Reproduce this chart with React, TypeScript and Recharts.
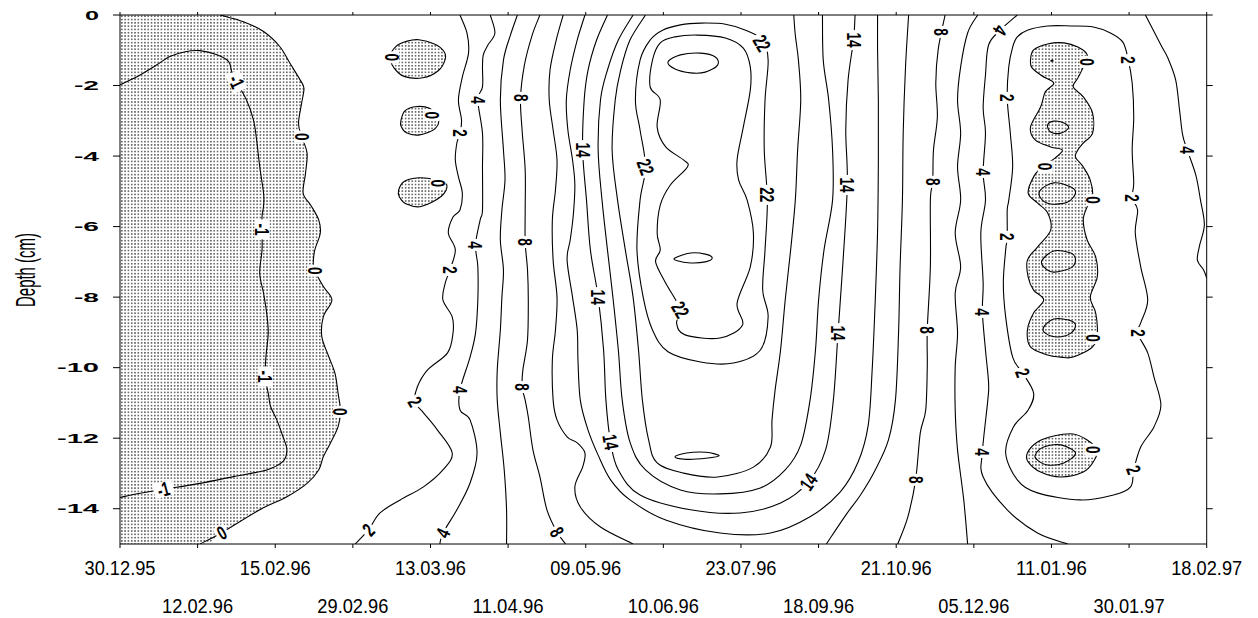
import React from 'react';
import { ComposedChart, Line, Scatter, XAxis, YAxis } from 'recharts';

type P = [number, number];

// ---------- axes ----------
const dateLabels = ['30.12.95', '12.02.96', '15.02.96', '29.02.96', '13.03.96', '11.04.96', '09.05.96', '10.06.96', '23.07.96', '18.09.96', '21.10.96', '05.12.96', '11.01.96', '30.01.97', '18.02.97'];
const dateTicks = [0, 1, 2, 3, 4, 5, 6, 7, 8, 9, 10, 11, 12, 13, 14];
const depthTicks = [0, -2, -4, -6, -8, -10, -12, -14];

// ---------- isolines (x = sampling-date index, y = depth cm) ----------
const isoM1: P[] = [[0, -1.98], [0.26, -1.7], [0.47, -1.42], [0.64, -1.18], [0.84, -1.04], [1.03, -1.01], [1.25, -1.13], [1.4, -1.32], [1.44, -1.61], [1.5, -1.89], [1.63, -2.41], [1.72, -2.98], [1.76, -3.54], [1.8, -4.3], [1.85, -5.06], [1.85, -5.4], [1.83, -5.7], [1.83, -6.08], [1.83, -6.66], [1.8, -7.32], [1.85, -7.9], [1.89, -8.46], [1.91, -9.02], [1.88, -9.69], [1.87, -10.25], [1.91, -10.73], [1.94, -11.1], [2.02, -11.48], [2.1, -11.96], [2.15, -12.33], [2.1, -12.66], [1.89, -12.9], [1.46, -13.09], [1.03, -13.28], [0.56, -13.45], [0.26, -13.56], [0, -13.68]];
const iso0Left: P[] = [[1.29, 0], [1.59, -0.19], [1.85, -0.47], [2.06, -0.9], [2.19, -1.37], [2.32, -1.84], [2.37, -2.08], [2.34, -2.5], [2.3, -3.07], [2.34, -3.45], [2.41, -3.92], [2.39, -4.49], [2.36, -5.06], [2.46, -5.4], [2.56, -5.81], [2.58, -6.19], [2.51, -6.66], [2.49, -7.04], [2.51, -7.25], [2.62, -7.7], [2.73, -8.08], [2.62, -8.55], [2.6, -9.12], [2.69, -9.69], [2.77, -10.16], [2.81, -10.73], [2.84, -11.22], [2.81, -11.67], [2.71, -12.14], [2.62, -12.52], [2.56, -12.9], [2.41, -13.28], [2.15, -13.66], [1.8, -14.03], [1.31, -14.68], [1.03, -15]];
const blob0a: P[] = [[3.48, -1.18], [3.56, -0.88], [3.7, -0.74], [3.85, -0.7], [4.05, -0.82], [4.17, -1.02], [4.19, -1.25], [4.1, -1.58], [3.9, -1.78], [3.66, -1.74], [3.53, -1.5], [3.48, -1.18]];
const blob0b: P[] = [[3.62, -2.98], [3.67, -2.72], [3.8, -2.6], [3.98, -2.64], [4.1, -2.92], [4.06, -3.22], [3.86, -3.4], [3.69, -3.34], [3.62, -3.15], [3.62, -2.98]];
const blob0c: P[] = [[3.59, -4.96], [3.66, -4.72], [3.82, -4.62], [4.05, -4.66], [4.21, -4.82], [4.14, -5.14], [3.88, -5.43], [3.69, -5.36], [3.6, -5.16], [3.59, -4.96]];
const iso2Left: P[] = [[4.38, 0], [4.47, -0.51], [4.49, -1.08], [4.41, -1.76], [4.36, -2.41], [4.4, -2.98], [4.38, -3.35], [4.34, -3.63], [4.32, -4.11], [4.36, -4.59], [4.41, -5.05], [4.38, -5.53], [4.29, -5.73], [4.23, -6.18], [4.32, -6.66], [4.25, -7.23], [4.19, -7.6], [4.16, -8.08], [4.28, -8.56], [4.29, -9.02], [4.22, -9.58], [3.96, -10.07], [3.83, -10.55], [3.8, -10.97], [3.91, -11.28], [4.09, -11.77], [4.28, -12.42], [4.16, -12.9], [3.91, -13.38], [3.61, -13.75], [3.35, -14.12], [3.2, -14.6], [3.03, -15]];
const iso4Left: P[] = [[4.77, 0], [4.83, -0.51], [4.74, -0.85], [4.68, -1.13], [4.67, -1.47], [4.67, -2.04], [4.61, -2.41], [4.67, -3.35], [4.67, -4.31], [4.67, -5.53], [4.64, -5.81], [4.58, -6.52], [4.61, -7.14], [4.61, -8.08], [4.58, -9.02], [4.51, -9.7], [4.38, -10.63], [4.38, -11.2], [4.51, -11.48], [4.6, -12.42], [4.51, -13.27], [4.34, -14.03], [4.16, -14.69], [4.12, -15]];
const iso6Left: P[] = [[5.12, 0], [5.03, -0.57], [4.94, -1.28], [4.9, -2.41], [4.94, -3.83], [4.96, -4.68], [4.92, -5.53], [4.9, -6.38], [4.94, -7.23], [4.92, -8.0], [4.9, -8.93], [4.86, -10.07], [4.86, -10.92], [4.9, -11.85], [4.95, -12.9], [4.98, -14.03], [4.98, -15]];
const iso8Left: P[] = [[5.41, 0], [5.31, -0.57], [5.21, -1.42], [5.16, -2.35], [5.18, -3.26], [5.22, -4.39], [5.22, -5.53], [5.22, -6.44], [5.25, -7.23], [5.26, -8.08], [5.25, -9.21], [5.19, -10.07], [5.18, -10.55], [5.22, -10.92], [5.26, -11.4], [5.32, -12.33], [5.41, -13.1], [5.5, -14.03], [5.63, -14.66], [5.74, -15]];
const iso10Left: P[] = [[5.71, 0], [5.62, -0.71], [5.54, -1.56], [5.53, -2.41], [5.58, -3.26], [5.63, -4.11], [5.61, -4.96], [5.57, -5.81], [5.58, -6.95], [5.63, -8.0], [5.61, -8.93], [5.57, -9.78], [5.58, -10.92], [5.63, -11.48], [5.76, -11.96], [5.89, -12.13], [5.99, -12.42], [5.96, -12.82], [5.86, -13.38], [5.93, -13.95], [6.19, -14.52], [6.61, -15]];
const iso12: P[] = [[5.99, 0], [5.89, -0.71], [5.8, -1.56], [5.75, -2.41], [5.77, -3.26], [5.83, -4.11], [5.86, -4.82], [5.84, -5.67], [5.8, -6.38], [5.76, -6.95], [5.83, -8.0], [5.89, -8.93], [5.9, -9.78], [5.93, -10.92], [6.03, -11.77], [6.16, -12.48], [6.32, -13.18], [6.57, -13.75], [7.03, -14.32], [7.73, -14.69], [8.38, -14.69], [8.89, -14.23], [9.28, -13.52], [9.51, -12.67], [9.64, -11.62], [9.69, -10.07], [9.73, -8.08], [9.76, -6.1], [9.77, -4.11], [9.77, -2.41], [9.76, -0.99], [9.76, 0]];
const iso14: P[] = [[6.28, 0], [6.14, -0.71], [6.03, -1.56], [5.98, -2.41], [5.96, -3.83], [6.01, -5.25], [6.06, -6.66], [6.16, -8.0], [6.23, -9.5], [6.26, -10.92], [6.32, -12.11], [6.42, -12.9], [6.7, -13.61], [7.35, -14.03], [7.99, -14.12], [8.51, -13.84], [8.87, -13.24], [9.09, -12.33], [9.19, -10.92], [9.25, -9.02], [9.31, -7.14], [9.37, -4.82], [9.35, -3.26], [9.38, -1.84], [9.45, -0.71], [9.47, 0]];
const iso16: P[] = [[6.61, 0], [6.42, -0.71], [6.28, -1.56], [6.19, -2.41], [6.16, -3.83], [6.21, -5.25], [6.28, -6.66], [6.35, -8.0], [6.42, -9.5], [6.47, -10.92], [6.57, -12.11], [6.77, -12.9], [7.22, -13.47], [7.73, -13.58], [8.25, -13.41], [8.57, -12.9], [8.77, -12.19], [8.89, -10.92], [8.96, -9.5], [9.0, -8.08], [9.07, -6.66], [9.18, -5.25], [9.18, -3.83], [9.13, -2.41], [9.06, -1.28], [9.05, 0]];
const iso18: P[] = [[6.77, 0], [6.57, -0.71], [6.45, -1.56], [6.38, -2.41], [6.34, -3.83], [6.41, -5.25], [6.51, -6.66], [6.61, -8.0], [6.68, -9.5], [6.73, -10.92], [6.81, -12.05], [6.92, -12.7], [7.26, -12.99], [7.7, -13.1], [8.16, -12.82], [8.38, -12.25], [8.4, -11.48], [8.44, -10.63], [8.51, -9.5], [8.57, -8.08], [8.64, -6.66], [8.7, -5.25], [8.73, -3.83], [8.77, -2.41], [8.74, -1.28], [8.7, -0.57], [8.68, 0]];
const iso20: P[] = [[7.48, -0.23], [7.22, -0.28], [6.99, -0.43], [6.83, -0.71], [6.7, -1.28], [6.64, -2.41], [6.7, -3.26], [6.77, -4.31], [6.7, -5.25], [6.66, -6.66], [6.74, -8.0], [6.86, -8.93], [7.06, -9.55], [7.48, -9.84], [7.9, -9.87], [8.25, -9.5], [8.35, -8.56], [8.28, -7.8], [8.31, -6.66], [8.34, -5.25], [8.3, -3.83], [8.31, -2.41], [8.35, -1.28], [8.28, -0.71], [8.06, -0.43], [7.8, -0.26], [7.48, -0.23]];
const iso20b: P[] = [[7.15, -12.53], [7.3, -12.42], [7.55, -12.4], [7.72, -12.5], [7.55, -12.57], [7.3, -12.6], [7.15, -12.53]];
const iso22: P[] = [[7.44, -0.57], [7.15, -0.62], [6.96, -0.79], [6.86, -1.28], [6.83, -2.04], [6.96, -2.41], [6.92, -3.18], [7.03, -3.74], [7.26, -4.11], [7.31, -4.31], [7.09, -4.82], [6.96, -5.39], [6.92, -6.18], [6.96, -6.66], [6.9, -7.0], [7.03, -7.6], [7.22, -8.36], [7.17, -8.73], [7.28, -9.07], [7.73, -9.16], [8.02, -8.79], [7.95, -8.17], [8.12, -7.14], [8.16, -6.18], [8.08, -5.25], [7.97, -4.68], [7.95, -4.11], [8.03, -3.18], [8.12, -2.13], [8.12, -1.47], [8.03, -0.94], [7.8, -0.65], [7.44, -0.57]];
const iso24a: P[] = [[7.06, -1.33], [7.22, -1.13], [7.48, -1.08], [7.67, -1.19], [7.7, -1.42], [7.54, -1.62], [7.35, -1.64], [7.15, -1.53], [7.06, -1.33]];
const iso24b: P[] = [[7.15, -6.89], [7.35, -6.75], [7.54, -6.78], [7.63, -6.89], [7.54, -7.0], [7.35, -7.03], [7.18, -6.97], [7.15, -6.89]];
const iso10Right: P[] = [[9.1, -15], [9.35, -14.18], [9.54, -13.61], [9.73, -12.9], [9.9, -12.05], [9.99, -10.92], [10.03, -9.02], [10.05, -7.14], [10.08, -5.25], [10.09, -3.35], [10.12, -1.47], [10.16, 0]];
const iso8Right: P[] = [[10.63, 0], [10.54, -0.99], [10.51, -1.93], [10.53, -2.89], [10.48, -3.83], [10.47, -4.73], [10.44, -5.25], [10.44, -7.14], [10.4, -8.93], [10.4, -9.98], [10.38, -11.2], [10.31, -11.85], [10.25, -13.18], [10.15, -14.23], [10.02, -15]];
const iso6Right: P[] = [[11.05, 0], [10.92, -0.51], [10.83, -1.47], [10.79, -2.41], [10.83, -3.35], [10.79, -4.31], [10.83, -5.25], [10.76, -6.18], [10.83, -7.14], [10.76, -7.88], [10.79, -9.02], [10.76, -9.98], [10.76, -11.2], [10.79, -12.33], [10.87, -13.75], [10.92, -15]];
const iso4Mid: P[] = [[11.56, 0], [11.34, -0.43], [11.19, -0.85], [11.15, -1.7], [11.12, -2.64], [11.15, -3.35], [11.12, -4.45], [11.15, -5.25], [11.09, -6.18], [11.12, -7.6], [11.11, -8.42], [11.15, -9.5], [11.19, -10.43], [11.18, -10.92], [11.11, -12.39], [11.12, -13.1], [11.43, -14.03], [11.82, -14.69], [12.21, -15]];
const iso4Right: P[] = [[13.21, 0], [13.41, -0.85], [13.5, -1.22], [13.6, -1.84], [13.65, -2.69], [13.69, -3.4], [13.75, -3.83], [13.86, -4.54], [13.92, -5.25], [13.97, -5.95], [13.91, -6.52], [13.88, -6.95], [13.96, -7.23], [14.0, -7.46]];
const iso2Right: P[] = [[11.56, -0.62], [11.69, -0.43], [11.95, -0.31], [12.25, -0.31], [12.54, -0.34], [12.76, -0.51], [12.92, -0.77], [12.99, -1.28], [13.04, -1.93], [13.06, -2.89], [13.04, -3.83], [13.06, -4.76], [13.04, -5.19], [13.11, -5.53], [13.08, -6.18], [13.15, -7.14], [13.24, -8.08], [13.15, -8.73], [13.11, -9.02], [13.24, -9.58], [13.32, -10.26], [13.41, -11.06], [13.32, -11.68], [13.15, -12.25], [13.06, -12.9], [13.02, -13.38], [12.8, -13.61], [12.37, -13.75], [11.82, -13.55], [11.56, -13.18], [11.41, -12.42], [11.51, -11.68], [11.7, -11.2], [11.77, -10.72], [11.63, -10.15], [11.5, -9.7], [11.41, -8.56], [11.38, -7.6], [11.41, -6.66], [11.43, -6.29], [11.43, -5.53], [11.45, -5.25], [11.5, -4.31], [11.47, -3.35], [11.43, -2.35], [11.45, -1.47], [11.5, -0.91], [11.56, -0.62]];
const blob0Right: P[] = [[11.77, -0.99], [11.95, -0.82], [12.16, -0.79], [12.34, -0.91], [12.46, -1.13], [12.41, -1.47], [12.34, -1.79], [12.28, -2.04], [12.41, -2.32], [12.53, -2.78], [12.53, -3.35], [12.41, -3.63], [12.34, -3.83], [12.31, -4.03], [12.41, -4.31], [12.5, -4.68], [12.53, -5.16], [12.46, -5.44], [12.41, -5.81], [12.46, -6.38], [12.57, -6.86], [12.59, -7.43], [12.5, -8.0], [12.57, -8.45], [12.59, -9.02], [12.53, -9.41], [12.28, -9.7], [12.12, -9.7], [11.95, -9.64], [11.73, -9.41], [11.69, -8.93], [11.77, -8.45], [11.9, -8.08], [11.77, -7.8], [11.7, -7.43], [11.69, -6.95], [11.82, -6.58], [11.99, -6.1], [11.95, -5.61], [11.82, -5.33], [11.7, -5.05], [11.77, -4.59], [11.88, -4.31], [12.05, -4.05], [12.14, -3.83], [11.99, -3.74], [11.79, -3.54], [11.73, -3.18], [11.86, -2.61], [11.92, -2.18], [12.03, -1.93], [11.88, -1.73], [11.75, -1.5], [11.73, -1.28], [11.77, -0.99]];
const innerR1: P[] = [[11.95, -3.12], [12.03, -3.01], [12.16, -3.06], [12.22, -3.2], [12.12, -3.35], [11.99, -3.32], [11.95, -3.12]];
const innerR2: P[] = [[11.86, -4.96], [12.03, -4.76], [12.25, -4.88], [12.31, -5.05], [12.21, -5.3], [11.99, -5.36], [11.86, -5.19], [11.86, -4.96]];
const innerR3: P[] = [[11.88, -6.95], [12.03, -6.69], [12.25, -6.75], [12.31, -6.95], [12.25, -7.17], [12.03, -7.29], [11.9, -7.14], [11.88, -6.95]];
const innerR4: P[] = [[11.9, -8.85], [12.03, -8.62], [12.22, -8.65], [12.31, -8.79], [12.25, -9.02], [12.08, -9.13], [11.92, -9.02], [11.9, -8.85]];
const innerDot: P[] = [[11.99, -1.3], [12.01, -1.28], [12.02, -1.31], [11.99, -1.3]];
const blob0Low: P[] = [[11.69, -12.42], [11.82, -12.11], [12.03, -11.94], [12.28, -11.88], [12.46, -12.05], [12.59, -12.33], [12.54, -12.67], [12.41, -12.96], [12.12, -13.1], [11.86, -12.96], [11.7, -12.67], [11.69, -12.42]];
const innerLow: P[] = [[11.79, -12.48], [11.9, -12.25], [12.12, -12.19], [12.31, -12.42], [12.16, -12.7], [11.95, -12.76], [11.82, -12.62], [11.79, -12.48]];

// ---------- contour labels: [text, x, depth, angle] ----------
const isoLabels: [string, number, number, number][] = [
  ['-1', 1.5, -1.89, 65], ['-1', 1.83, -6.08, 90], ['-1', 1.87, -10.25, 90], ['-1', 0.56, -13.45, -15],
  ['0', 2.34, -3.45, 90], ['0', 2.51, -7.25, 90], ['0', 2.84, -11.25, 90], ['0', 1.31, -14.68, -30],
  ['0', 3.5, -1.2, 90], ['0', 4.02, -2.84, 90], ['0', 4.1, -4.77, 90],
  ['2', 4.38, -3.35, 90], ['2', 4.25, -7.23, 90], ['2', 3.8, -10.97, 60], ['2', 3.2, -14.6, -45],
  ['4', 4.61, -2.41, 90], ['4', 4.58, -6.52, 90], ['4', 4.38, -10.63, 90], ['4', 4.16, -14.69, -65],
  ['8', 5.16, -2.35, 90], ['8', 5.22, -6.44, 90], ['8', 5.18, -10.55, 90], ['8', 5.63, -14.66, 60],
  ['14', 5.96, -3.83, 90], ['14', 6.16, -8.0, 90], ['14', 6.32, -12.11, 80],
  ['22', 6.77, -4.31, 70], ['22', 8.27, -0.8, 60], ['22', 7.22, -8.36, 60], ['22', 8.33, -5.1, 90],
  ['14', 8.87, -13.24, -55], ['14', 9.25, -9.02, 90], ['14', 9.37, -4.82, 90], ['14', 9.45, -0.71, 90],
  ['8', 10.58, -0.48, 90], ['8', 10.47, -4.73, 90], ['8', 10.4, -8.93, 90], ['8', 10.25, -13.18, 90],
  ['4', 11.34, -0.43, 120], ['4', 11.12, -4.45, 90], ['4', 11.11, -8.42, 90], ['4', 11.11, -12.39, 90],
  ['2', 11.43, -2.35, 90], ['2', 11.43, -6.29, 90], ['2', 11.63, -10.15, 70],
  ['2', 12.99, -1.28, 90], ['2', 13.04, -5.19, 90], ['2', 13.11, -9.02, 90], ['2', 13.06, -12.9, 70],
  ['4', 13.75, -3.83, 90],
  ['0', 12.46, -1.33, 90], ['0', 11.92, -4.3, 90], ['0', 12.54, -5.25, 90], ['0', 12.54, -9.16, 90], ['0', 12.53, -12.33, 90],
];

// ---------- derived tables for the library ----------
const shadeLeft: P[] = [[0, 0], ...iso0Left, [0, -15]];
const shaded: P[][] = [shadeLeft, blob0a, blob0b, blob0c, blob0Right, blob0Low];
const isolines: P[][] = [isoM1, iso0Left, blob0a, blob0b, blob0c, iso2Left, iso4Left, iso6Left, iso8Left, iso10Left, iso12, iso14, iso16, iso18, iso20, iso20b, iso22, iso24a, iso24b, iso10Right, iso8Right, iso6Right, iso4Mid, iso4Right, iso2Right, blob0Right, innerR1, innerR2, innerR3, innerR4, innerDot, blob0Low, innerLow];
const toPts = (a: P[]) => a.map(([x, y]) => ({ x, y }));
const labelPts = isoLabels.map(([t, x, y, a]) => ({ x, y, t, a }));

// smooth interpolating curve (Catmull-Rom), closes itself when first == last point
const smoothCurve: any = (context: any) => {
  let pts: number[][] = [];
  return {
    areaStart() {},
    areaEnd() {},
    lineStart() { pts = []; },
    point(x: number, y: number) { pts.push([+x, +y]); },
    lineEnd() {
      const n = pts.length;
      if (!n) return;
      context.moveTo(pts[0][0], pts[0][1]);
      if (n < 3) {
        for (let i = 1; i < n; i++) context.lineTo(pts[i][0], pts[i][1]);
        return;
      }
      const closed = Math.abs(pts[0][0] - pts[n - 1][0]) < 1e-6 && Math.abs(pts[0][1] - pts[n - 1][1]) < 1e-6;
      const m = n - 1;
      const get = (i: number) => (closed ? pts[((i % m) + m) % m] : pts[Math.max(0, Math.min(n - 1, i))]);
      for (let i = 0; i < n - 1; i++) {
        const p0 = get(i - 1), p1 = get(i), p2 = get(i + 1), p3 = get(i + 2);
        const k = 1 / 6;
        context.bezierCurveTo(
          p1[0] + (p2[0] - p0[0]) * k, p1[1] + (p2[1] - p0[1]) * k,
          p2[0] - (p3[0] - p1[0]) * k, p2[1] - (p3[1] - p1[1]) * k,
          p2[0], p2[1],
        );
      }
      if (closed) context.closePath();
    },
  };
};

const FONT = "'Liberation Sans', Arial, Helvetica, sans-serif";

const XTick = (p: any) => {
  const { x, y, payload } = p;
  const i = Math.round(payload.value);
  const dy = i % 2 === 0 ? 26.7 : 64.7;
  return (
    <text x={x} y={y + dy} textAnchor="middle" fontSize={19.5} fontFamily={FONT} fill="#000" textLength={71} lengthAdjust="spacingAndGlyphs">
      {dateLabels[i]}
    </text>
  );
};

const YTick = (p: any) => {
  const { x, y, payload } = p;
  const s = String(payload.value);
  const len = s === '0' ? 14 : s.length === 2 ? 25 : 42;
  return (
    <text x={x} y={y + 4.7} textAnchor="end" fontSize={13} fontWeight="bold" fontFamily={FONT} fill="#000" textLength={len} lengthAdjust="spacingAndGlyphs">
      {s}
    </text>
  );
};

const NoTick = () => <g />;

const DepthTitle = () => (
  <text x={27} y={262} transform="rotate(-90, 27, 262)" textAnchor="middle" fontSize={27} fontFamily={FONT} fill="#000" textLength={74} lengthAdjust="spacingAndGlyphs">
    Depth (cm)
  </text>
);

const IsoLabel = (p: any) => {
  const { cx, cy, payload } = p;
  if (cx == null || cy == null) return <g />;
  const t: string = payload.t;
  const w = t.length * 8 + 4;
  return (
    <g transform={`translate(${cx},${cy}) rotate(${payload.a})`}>
      <rect x={-w / 2} y={-7.5} width={w} height={15} fill="#fff" />
      <text x={0} y={7} textAnchor="middle" fontSize={20} fontWeight="bold" fontFamily={FONT} fill="#000" transform="scale(0.68,1)">
        {t}
      </text>
    </g>
  );
};

export default function App() {
  return (
    <div style={{ width: 1250, height: 610, position: 'relative', background: '#fff' }}>
      <style>{`.dotfill path{fill:url(#dotpat) !important;}`}</style>
      <svg width={0} height={0} style={{ position: 'absolute' }}>
        <defs>
          <pattern id="dotpat" width={3.3} height={3.3} patternUnits="userSpaceOnUse">
            <rect width={3.3} height={3.3} fill="#fff" />
            <rect x={1} y={1} width={1.25} height={1.25} fill="#000" />
          </pattern>
        </defs>
      </svg>
      <ComposedChart width={1250} height={610} margin={{ top: 2, right: 41.3, bottom: 0, left: 52 }}>
        <XAxis xAxisId="b" type="number" dataKey="x" domain={[0, 14]} ticks={dateTicks} interval={0} allowDataOverflow
          height={74} tickSize={4} tickMargin={0} tick={XTick} stroke="#000" tickLine={{ stroke: '#000' }} />
        <XAxis xAxisId="t" orientation="top" type="number" dataKey="x" domain={[0, 14]} ticks={dateTicks} interval={0} allowDataOverflow
          height={5} tickSize={3} tick={NoTick} stroke="#000" tickLine={{ stroke: '#000' }} />
        <YAxis yAxisId="l" type="number" dataKey="y" domain={[-15, 0]} ticks={depthTicks} interval={0} allowDataOverflow
          width={60} tickSize={7} tickMargin={14} tick={YTick} stroke="#000" tickLine={{ stroke: '#000' }} label={DepthTitle} />
        <YAxis yAxisId="r" orientation="right" type="number" dataKey="y" domain={[-15, 0]} ticks={depthTicks} interval={0} allowDataOverflow
          width={10} tickSize={6} tick={NoTick} stroke="#000" tickLine={{ stroke: '#000' }} />
        {shaded.map((s, i) => (
          <Line key={'s' + i} className="dotfill" data={toPts(s)} dataKey="y" xAxisId="b" yAxisId="l" type={smoothCurve}
            stroke="none" dot={false} activeDot={false} isAnimationActive={false} legendType="none" />
        ))}
        {isolines.map((s, i) => (
          <Line key={'c' + i} data={toPts(s)} dataKey="y" xAxisId="b" yAxisId="l" type={smoothCurve}
            stroke="#000" strokeWidth={1.1} dot={false} activeDot={false} isAnimationActive={false} legendType="none" />
        ))}
        <Scatter data={labelPts} dataKey="y" xAxisId="b" yAxisId="l" shape={IsoLabel} isAnimationActive={false} legendType="none" />
      </ComposedChart>
    </div>
  );
}
